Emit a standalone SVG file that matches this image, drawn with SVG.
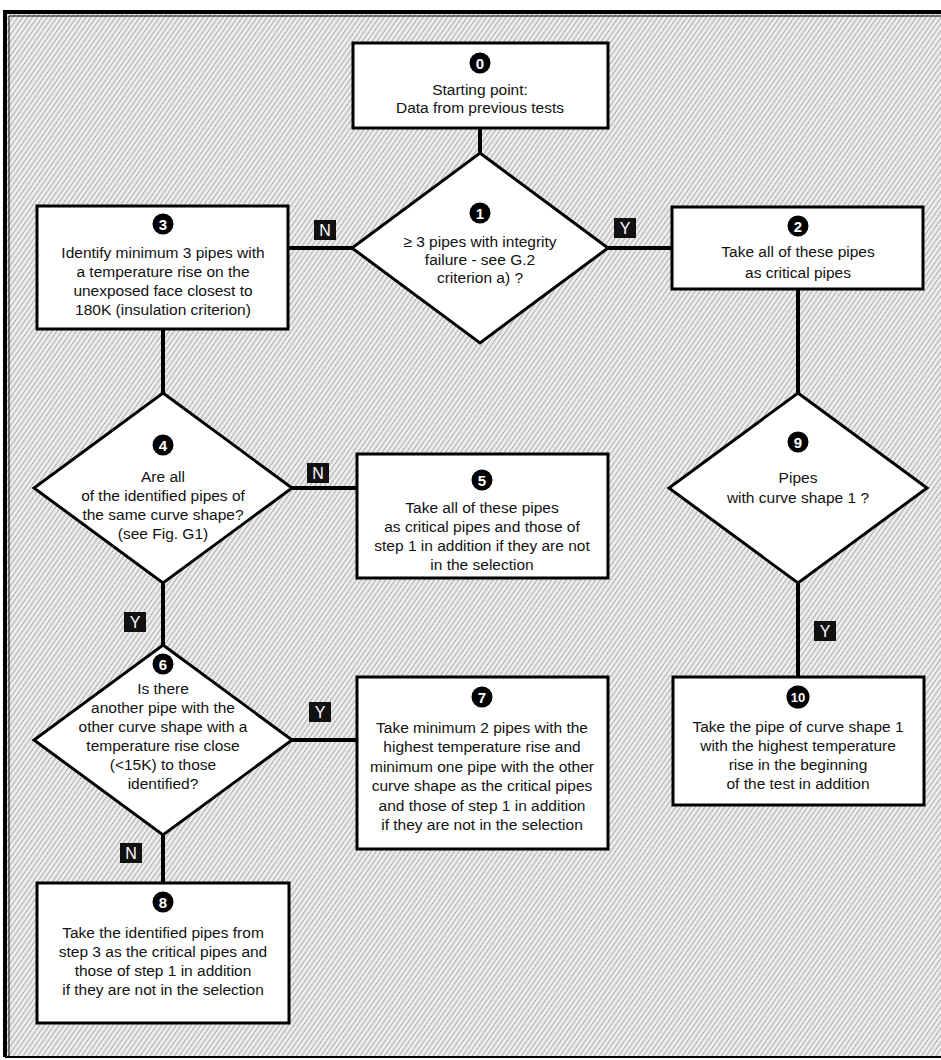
<svg xmlns="http://www.w3.org/2000/svg" width="941" height="1060" viewBox="0 0 941 1060">
<defs>
<pattern id="hatch" width="4" height="4" patternUnits="userSpaceOnUse" patternTransform="rotate(35)">
<rect width="4" height="4" fill="#ececec"/>
<line x1="0" y1="0" x2="0" y2="4" stroke="#707070" stroke-width="1"/>
</pattern>
<style>
.box{fill:#fff;stroke:#000;stroke-width:3}
.dia{fill:#fff;stroke:#000;stroke-width:3;stroke-linejoin:miter}
.con{stroke:#000;stroke-width:4;fill:none}
.num{fill:#000}
.numt{fill:#fff;font-family:"Liberation Sans",Arial,sans-serif;font-weight:bold;font-size:15px;text-anchor:middle}
.t{fill:#111;font-family:"Liberation Sans",Arial,sans-serif;font-size:15.5px;text-anchor:middle}
.lab{fill:#111}
.labt{fill:#fff;font-family:"Liberation Sans",Arial,sans-serif;font-size:16px;text-anchor:middle}
</style>
</defs>
<rect x="0" y="0" width="941" height="1060" fill="#fff"/>
<rect x="5" y="13" width="936" height="1044" fill="url(#hatch)"/>
<path d="M5,1057 V12 H941" fill="none" stroke="#000" stroke-width="4"/>
<path d="M9,1057 V16 H941" fill="none" stroke="#000" stroke-width="1"/>
<path d="M5,1057 H941" fill="none" stroke="#000" stroke-width="2"/>

<g id="connectors">
<path class="con" d="M480,128 V153"/>
<path class="con" d="M288,248 H352"/>
<path class="con" d="M608,248 H672"/>
<path class="con" d="M798,289 V393"/>
<path class="con" d="M798,583 V677"/>
<path class="con" d="M163,329 V393"/>
<path class="con" d="M292,488 H357"/>
<path class="con" d="M163,583 V645"/>
<path class="con" d="M292,740 H357"/>
<path class="con" d="M163,835 V883"/>
<g id="label-n1"><rect class="lab" x="314" y="220" width="22" height="20"/><text class="labt" x="325" y="236">N</text></g>
<g id="label-y1"><rect class="lab" x="614" y="218" width="22" height="20"/><text class="labt" x="625" y="234">Y</text></g>
<g id="label-n4"><rect class="lab" x="307" y="463" width="22" height="20"/><text class="labt" x="318" y="479">N</text></g>
<g id="label-y4"><rect class="lab" x="124" y="612" width="22" height="20"/><text class="labt" x="135" y="628">Y</text></g>
<g id="label-y6"><rect class="lab" x="309" y="702" width="22" height="20"/><text class="labt" x="320" y="718">Y</text></g>
<g id="label-n6"><rect class="lab" x="120" y="843" width="22" height="20"/><text class="labt" x="131" y="859">N</text></g>
<g id="label-y9"><rect class="lab" x="814" y="621" width="22" height="20"/><text class="labt" x="825" y="637">Y</text></g>
</g>

<g id="node0">
<rect class="box" x="353" y="43" width="255" height="85"/>
<circle class="num" cx="480" cy="63" r="10.5"/><text class="numt" x="480" y="68.5">0</text>
<text class="t" x="480" y="95">Starting point:</text>
<text class="t" x="480" y="113">Data from previous tests</text>
</g>

<g id="node1">
<polygon class="dia" points="480,153 608,248 480,343 352,248"/>
<circle class="num" cx="480" cy="213" r="10.5"/><text class="numt" x="480" y="218.5">1</text>
<text class="t" x="480" y="247">≥ 3 pipes with integrity</text>
<text class="t" x="480" y="265">failure - see G.2</text>
<text class="t" x="480" y="283">criterion a) ?</text>
</g>

<g id="node2">
<rect class="box" x="672" y="207" width="251" height="82"/>
<circle class="num" cx="798" cy="226" r="10.5"/><text class="numt" x="798" y="231.5">2</text>
<text class="t" x="798" y="257">Take all of these pipes</text>
<text class="t" x="798" y="278">as critical pipes</text>
</g>

<g id="node3">
<rect class="box" x="37" y="206" width="251" height="123"/>
<circle class="num" cx="163" cy="224" r="10.5"/><text class="numt" x="163" y="229.5">3</text>
<text class="t" x="163" y="258">Identify minimum 3 pipes with</text>
<text class="t" x="163" y="277">a temperature rise on the</text>
<text class="t" x="163" y="296">unexposed face closest to</text>
<text class="t" x="163" y="315">180K (insulation criterion)</text>
</g>

<g id="node4">
<polygon class="dia" points="163,393 292,488 163,583 34,488"/>
<circle class="num" cx="163" cy="445" r="10.5"/><text class="numt" x="163" y="450.5">4</text>
<text class="t" x="163" y="482">Are all</text>
<text class="t" x="163" y="501">of the identified pipes of</text>
<text class="t" x="163" y="520">the same curve shape?</text>
<text class="t" x="163" y="539">(see Fig. G1)</text>
</g>

<g id="node5">
<rect class="box" x="357" y="454" width="251" height="124"/>
<circle class="num" cx="482" cy="480" r="10.5"/><text class="numt" x="482" y="485.5">5</text>
<text class="t" x="482" y="513">Take all of these pipes</text>
<text class="t" x="482" y="532">as critical pipes and those of</text>
<text class="t" x="482" y="551">step 1 in addition if they are not</text>
<text class="t" x="482" y="570">in the selection</text>
</g>

<g id="node6">
<polygon class="dia" points="163,645 292,740 163,835 34,740"/>
<circle class="num" cx="163" cy="664" r="10.5"/><text class="numt" x="163" y="669.5">6</text>
<text class="t" x="163" y="694">Is there</text>
<text class="t" x="163" y="713">another pipe with the</text>
<text class="t" x="163" y="732">other curve shape with a</text>
<text class="t" x="163" y="751">temperature rise close</text>
<text class="t" x="163" y="770">(&lt;15K) to those</text>
<text class="t" x="163" y="789">identified?</text>
</g>

<g id="node7">
<rect class="box" x="357" y="677" width="251" height="172"/>
<circle class="num" cx="482" cy="697" r="10.5"/><text class="numt" x="482" y="702.5">7</text>
<text class="t" x="482" y="733">Take minimum 2 pipes with the</text>
<text class="t" x="482" y="752">highest temperature rise and</text>
<text class="t" x="482" y="772">minimum one pipe with the other</text>
<text class="t" x="482" y="791">curve shape as the critical pipes</text>
<text class="t" x="482" y="811">and those of step 1 in addition</text>
<text class="t" x="482" y="830">if they are not in the selection</text>
</g>

<g id="node8">
<rect class="box" x="37" y="883" width="252" height="140"/>
<circle class="num" cx="163" cy="902" r="10.5"/><text class="numt" x="163" y="907.5">8</text>
<text class="t" x="163" y="938">Take the identified pipes from</text>
<text class="t" x="163" y="957">step 3 as the critical pipes and</text>
<text class="t" x="163" y="976">those of step 1 in addition</text>
<text class="t" x="163" y="995">if they are not in the selection</text>
</g>

<g id="node9">
<polygon class="dia" points="798,393 927,488 798,583 669,488"/>
<circle class="num" cx="798" cy="442" r="10.5"/><text class="numt" x="798" y="447.5">9</text>
<text class="t" x="798" y="483">Pipes</text>
<text class="t" x="798" y="503">with curve shape 1 ?</text>
</g>

<g id="node10">
<rect class="box" x="673" y="677" width="251" height="128"/>
<circle class="num" cx="798" cy="697" r="11.5"/><text class="numt" x="798" y="702" style="font-size:13px">10</text>
<text class="t" x="798" y="732">Take the pipe of curve shape 1</text>
<text class="t" x="798" y="751">with the highest temperature</text>
<text class="t" x="798" y="770">rise in the beginning</text>
<text class="t" x="798" y="789">of the test in addition</text>
</g>
</svg>
